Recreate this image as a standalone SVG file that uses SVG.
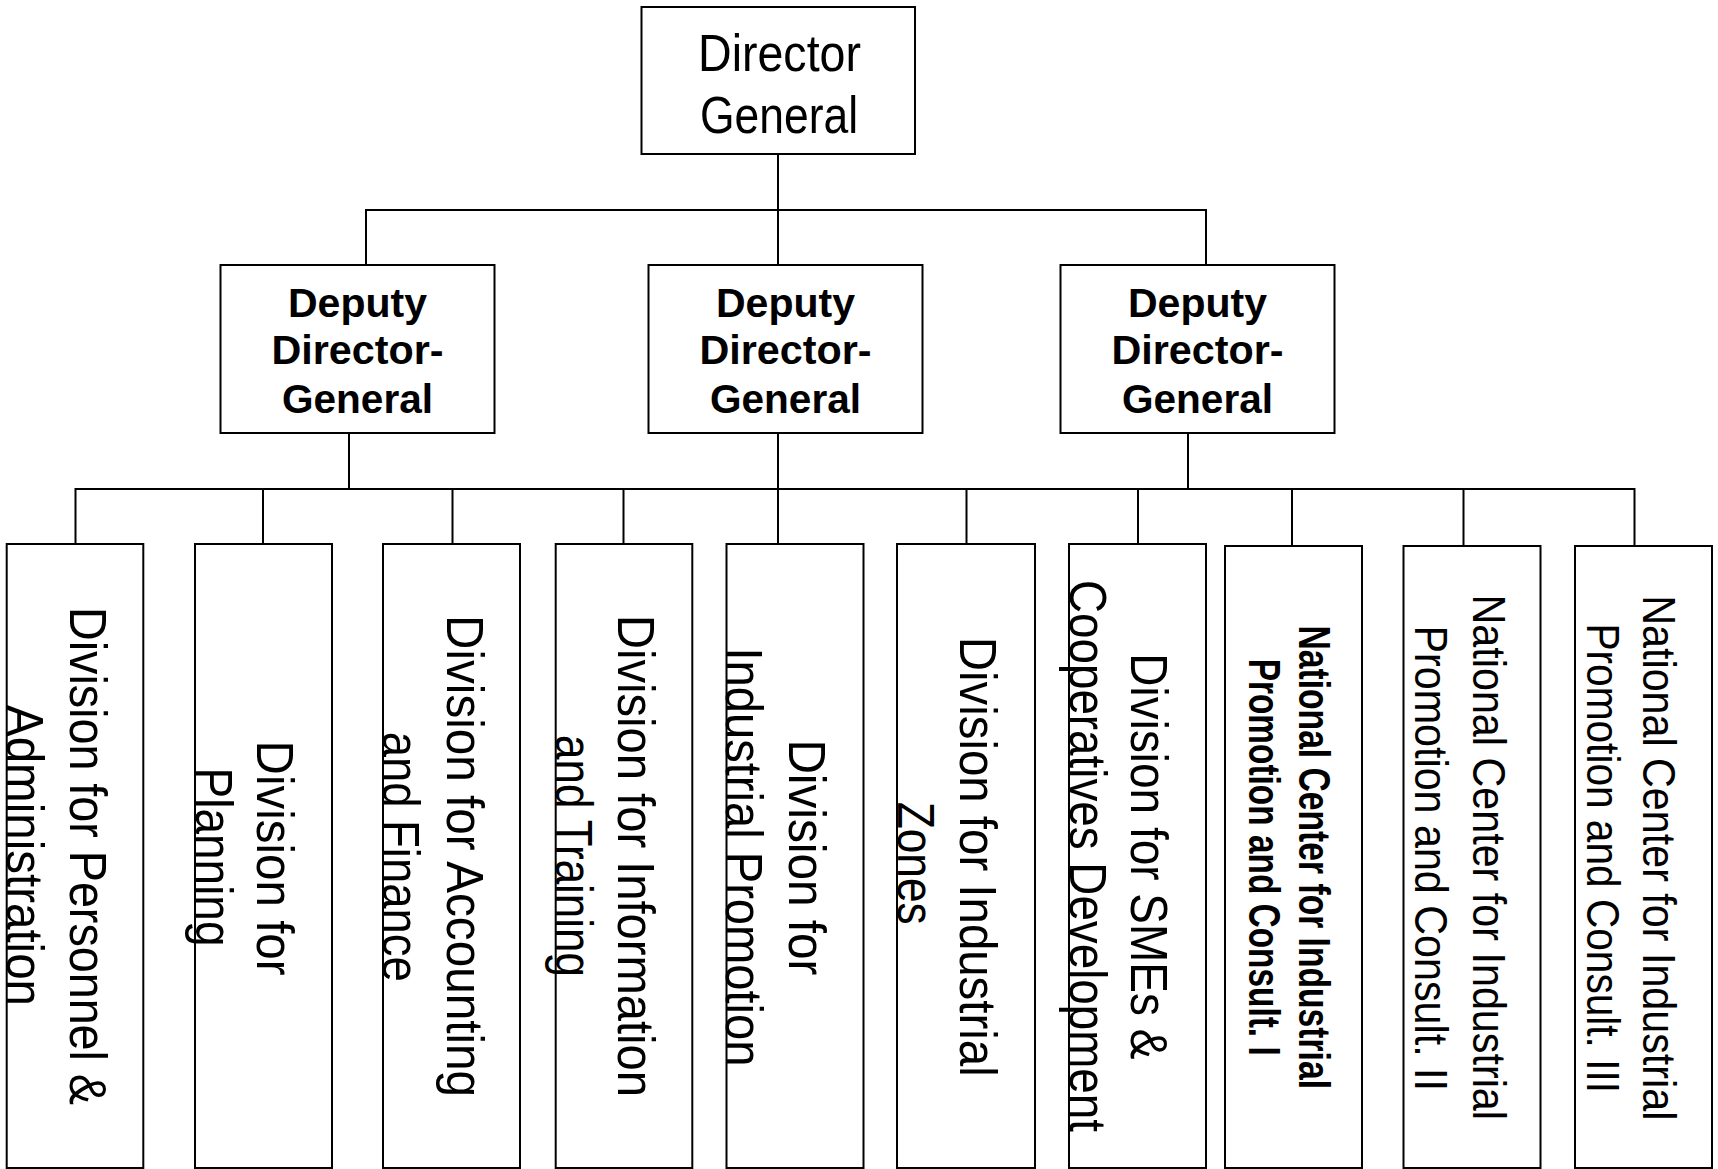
<svg xmlns="http://www.w3.org/2000/svg" width="1718" height="1169" viewBox="0 0 1718 1169">
<style>
.box{fill:#fff;stroke:#000;stroke-width:2}
.conn{stroke:#000;stroke-width:2;fill:none}
.n{font-family:'Liberation Sans Narrow','Liberation Sans',Arial,sans-serif;fill:#000}
.b{font-family:'Liberation Sans',Arial,sans-serif;font-weight:bold;fill:#000;font-size:40px}
.dg{font-size:52px}
.dv{font-size:52px}
.nc{font-size:47px}
.ncb{font-size:44px;font-weight:bold}
</style>
<rect width="1718" height="1169" fill="#fff"/>
<g id="connectors">
<path class="conn" d="M778 154V265M366 265V210H1206V265M349 433V489M778 433V544M1188 433V489M75.5 544V489H1634.5V546M263 489V544M452.5 489V544M623.5 489V544M966.5 489V544M1138 489V544M1292 489V546M1463.5 489V546"/>
</g>
<g id="director-general">
<rect class="box" x="641.5" y="7" width="273.5" height="147"/>
<text class="n dg" x="779.5" y="70.7" text-anchor="middle" textLength="163" lengthAdjust="spacingAndGlyphs">Director</text>
<text class="n dg" x="779" y="133" text-anchor="middle" textLength="158" lengthAdjust="spacingAndGlyphs">General</text>
</g>
<g id="ddg-1">
<rect class="box" x="220.5" y="265" width="274" height="168"/>
<text class="b" x="357.5" y="316.5" text-anchor="middle" textLength="139" lengthAdjust="spacingAndGlyphs">Deputy</text>
<text class="b" x="357.5" y="364" text-anchor="middle" textLength="172" lengthAdjust="spacingAndGlyphs">Director-</text>
<text class="b" x="357.5" y="413" text-anchor="middle" textLength="151" lengthAdjust="spacingAndGlyphs">General</text>
</g>
<g id="ddg-2">
<rect class="box" x="648.5" y="265" width="274" height="168"/>
<text class="b" x="785.5" y="316.5" text-anchor="middle" textLength="139" lengthAdjust="spacingAndGlyphs">Deputy</text>
<text class="b" x="785.5" y="364" text-anchor="middle" textLength="172" lengthAdjust="spacingAndGlyphs">Director-</text>
<text class="b" x="785.5" y="413" text-anchor="middle" textLength="151" lengthAdjust="spacingAndGlyphs">General</text>
</g>
<g id="ddg-3">
<rect class="box" x="1060.5" y="265" width="274" height="168"/>
<text class="b" x="1197.5" y="316.5" text-anchor="middle" textLength="139" lengthAdjust="spacingAndGlyphs">Deputy</text>
<text class="b" x="1197.5" y="364" text-anchor="middle" textLength="172" lengthAdjust="spacingAndGlyphs">Director-</text>
<text class="b" x="1197.5" y="413" text-anchor="middle" textLength="151" lengthAdjust="spacingAndGlyphs">General</text>
</g>
<g id="div-personnel">
<rect class="box" x="6.7" y="544" width="136.6" height="624"/>
<text class="n dv" transform="translate(69.5 607) rotate(90)" textLength="498" lengthAdjust="spacingAndGlyphs">Division for Personnel &amp;</text>
<text class="n dv" transform="translate(7 705) rotate(90)" textLength="301" lengthAdjust="spacingAndGlyphs">Administration</text>
</g>
<g id="div-planning">
<rect class="box" x="195" y="544" width="137" height="624"/>
<text class="n dv" transform="translate(257 740.6) rotate(90)" textLength="235" lengthAdjust="spacingAndGlyphs">Division for</text>
<text class="n dv" transform="translate(196 767.5) rotate(90)" textLength="179" lengthAdjust="spacingAndGlyphs">Planning</text>
</g>
<g id="div-accounting">
<rect class="box" x="383" y="544" width="137" height="624"/>
<text class="n dv" transform="translate(446.7 615) rotate(90)" textLength="482" lengthAdjust="spacingAndGlyphs">Division for Accounting</text>
<text class="n dv" transform="translate(383.3 731.7) rotate(90)" textLength="250" lengthAdjust="spacingAndGlyphs">and Finance</text>
</g>
<g id="div-information">
<rect class="box" x="555.7" y="544" width="136.6" height="624"/>
<text class="n dv" transform="translate(618 615) rotate(90)" textLength="482" lengthAdjust="spacingAndGlyphs">Division for Information</text>
<text class="n dv" transform="translate(555.5 735) rotate(90)" textLength="242" lengthAdjust="spacingAndGlyphs">and Training</text>
</g>
<g id="div-industrial-promotion">
<rect class="box" x="726.5" y="544" width="137" height="624"/>
<text class="n dv" transform="translate(789 739.4) rotate(90)" textLength="236" lengthAdjust="spacingAndGlyphs">Division for</text>
<text class="n dv" transform="translate(726.4 647.5) rotate(90)" textLength="419" lengthAdjust="spacingAndGlyphs">Industrial Promotion</text>
</g>
<g id="div-industrial-zones">
<rect class="box" x="897" y="544" width="138" height="624"/>
<text class="n dv" transform="translate(960 636.7) rotate(90)" textLength="440" lengthAdjust="spacingAndGlyphs">Division for Industrial</text>
<text class="n dv" transform="translate(898 801.7) rotate(90)" textLength="123" lengthAdjust="spacingAndGlyphs">Zones</text>
</g>
<g id="div-smes">
<rect class="box" x="1069" y="544" width="137" height="624"/>
<text class="n dv" transform="translate(1130.7 653.3) rotate(90)" textLength="406" lengthAdjust="spacingAndGlyphs">Division for SMEs &amp;</text>
<text class="n dv" transform="translate(1070 580) rotate(90)" textLength="552" lengthAdjust="spacingAndGlyphs">Cooperatives Development</text>
</g>
<g id="nc-1">
<rect class="box" x="1225" y="546" width="137" height="622"/>
<text class="n ncb" transform="translate(1299 625.5) rotate(90)" textLength="463.5" lengthAdjust="spacingAndGlyphs">National Center for Industrial</text>
<text class="n ncb" transform="translate(1249 658.7) rotate(90)" textLength="397" lengthAdjust="spacingAndGlyphs">Promotion and Consult. I</text>
</g>
<g id="nc-2">
<rect class="box" x="1403.5" y="546" width="137" height="622"/>
<text class="n nc" transform="translate(1472.5 594.5) rotate(90)" textLength="525.5" lengthAdjust="spacingAndGlyphs">National Center for Industrial</text>
<text class="n nc" transform="translate(1415.3 625.5) rotate(90)" textLength="465.5" lengthAdjust="spacingAndGlyphs">Promotion and Consult. II</text>
</g>
<g id="nc-3">
<rect class="box" x="1575" y="546" width="137" height="622"/>
<text class="n nc" transform="translate(1643.2 595.3) rotate(90)" textLength="525" lengthAdjust="spacingAndGlyphs">National Center for Industrial</text>
<text class="n nc" transform="translate(1586.8 623.5) rotate(90)" textLength="469.5" lengthAdjust="spacingAndGlyphs">Promotion and Consult. III</text>
</g>
</svg>
